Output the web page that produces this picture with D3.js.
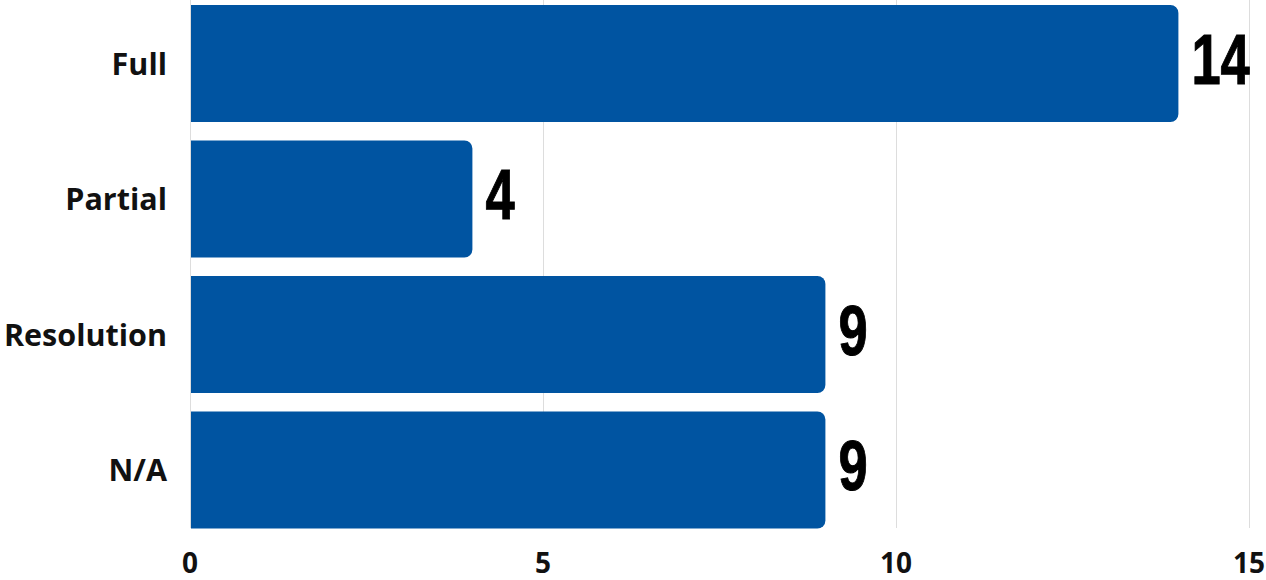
<!DOCTYPE html>
<html lang="en">
<head>
<meta charset="utf-8">
<style>
  body { margin: 0; background: white; }
  .grid line { stroke: #dddddd; stroke-width: 1px; }
  .cat { font-family: "Open Sans", sans-serif; font-weight: 700; font-size: 30.5px; fill: #111; }
  .tick-label { font-family: "Open Sans", sans-serif; font-weight: 700; font-size: 28px; fill: #111; }
  .val { font-family: "Liberation Sans", Arial, sans-serif; font-weight: 700; font-size: 71px; fill: #000; stroke: #000; stroke-width: 1px; }
</style>
<script src="https://d3js.org/d3.v7.min.js"></script>
</head>
<body>
<script>
var categories = ["Full", "Partial", "Resolution", "N/A"];
var values = [14, 4, 9, 9];
var ticks = [0, 5, 10, 15];

var width = 1266, height = 580;
var left = 190, right = 1249;

var svg = d3.select("body").append("svg")
    .attr("width", width)
    .attr("height", height);

var x = d3.scaleLinear().domain([0, 15]).range([left, right]);
var y = d3.scaleBand().domain(categories).range([-4.25, 537.75])
    .paddingInner(0.137).paddingOuter(0.0685);

// grid
svg.append("g").attr("class", "grid")
  .selectAll("line").data(ticks).enter().append("line")
    .attr("x1", d => x(d) + 0.5).attr("x2", d => x(d) + 0.5)
    .attr("y1", 0).attr("y2", 528);

svg.append("g").selectAll("text").data(ticks).enter().append("text")
    .attr("class", "tick-label")
    .attr("x", d => x(d)).attr("y", 573)
    .attr("text-anchor", "middle")
    .text(d => d);

// bars, rounded only on the right
function barPath(d) {
  var x0 = x(0) + 1, x1 = x(d.v), y0 = y(d.c), h = y.bandwidth(), r = 8;
  return "M" + x0 + "," + y0 +
    "H" + (x1 - r) + "A" + r + "," + r + " 0 0 1 " + x1 + "," + (y0 + r) +
    "V" + (y0 + h - r) + "A" + r + "," + r + " 0 0 1 " + (x1 - r) + "," + (y0 + h) +
    "H" + x0 + "Z";
}

var data = categories.map((c, i) => ({c: c, v: values[i]}));

svg.append("g").selectAll("path").data(data).enter().append("path")
    .attr("d", barPath)
    .attr("fill", "#0054a1");

// condensed look for the value labels
svg.append("g").selectAll("text").data(data).enter().append("text")
    .attr("class", "val")
    .attr("transform", d => "translate(" + (x(d.v) + 13) + "," + (y(d.c) + y.bandwidth() / 2 + 20) + ") scale(0.74,1)")
    .text(d => d.v);

svg.append("g").selectAll("text").data(data).enter().append("text")
    .attr("class", "cat")
    .attr("x", 167)
    .attr("y", d => y(d.c) + y.bandwidth() / 2 + 11)
    .attr("text-anchor", "end")
    .text(d => d.c);
</script>
</body>
</html>
